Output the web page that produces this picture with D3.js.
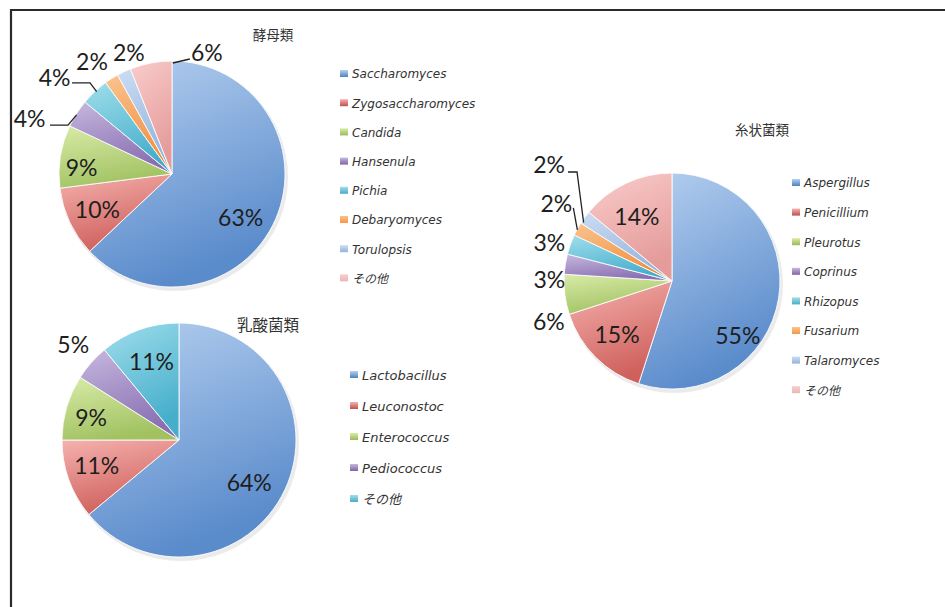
<!DOCTYPE html>
<html>
<head>
<meta charset="utf-8">
<script src="https://cdn.jsdelivr.net/npm/d3@7"></script>
<style>
  body { margin: 0; background: #fff; }
  svg { display: block; }
</style>
</head>
<body>
<div id="chart"></div>
<script>
//************* data ***************/
var yeastTitle = "酵母類";
var yeastNames = ["Saccharomyces", "Zygosaccharomyces", "Candida", "Hansenula", "Pichia", "Debaryomyces", "Torulopsis", "その他"];
var yeastValues = [63, 10, 9, 4, 4, 2, 2, 6];

var moldTitle = "糸状菌類";
var moldNames = ["Aspergillus", "Penicillium", "Pleurotus", "Coprinus", "Rhizopus", "Fusarium", "Talaromyces", "その他"];
var moldValues = [55, 15, 6, 3, 3, 2, 2, 14];

var lacticTitle = "乳酸菌類";
var lacticNames = ["Lactobacillus", "Leuconostoc", "Enterococcus", "Pediococcus", "その他"];
var lacticValues = [64, 11, 9, 5, 11];

//************* colours ***************/
var markColor = ["#4F81BD", "#C0504D", "#9BBB59", "#8064A2", "#4BACC6", "#F79646", "#95B3D7", "#E6B9B8"];
var lightColor = ["#B6D0F0", "#F5B2AF", "#D8EBA8", "#C6B8DE", "#A0DEEC", "#FBC38E", "#CCDDF3", "#F9CDCC"];
var darkColor  = ["#5A8BCB", "#CF605C", "#A2C262", "#8A70B3", "#45AECB", "#F08F40", "#92B4DE", "#E49B99"];

//************* layout ***************/
// label: in = centroid nudge, out = offset from the arc edge point, with optional leader
var yeastLayout = {
  cx: 172, cy: 174, r: 113,
  title: [273, 35], titleSize: 13.5,
  legend: {x: 340, y: 74, step: 29.2, size: 12},
  labels: [
    {dx: -6, dy: 11}, {dx: -1, dy: 1}, {dx: -10, dy: 6},
    {out: true, dx: -47, dy: 5, leader: [[0, 1.5], [-8.6, 11.6], [-26.6, 11.6]]},
    {out: true, dx: -40, dy: -14, leader: [[2, 0], [-4.6, -8.7], [-22.6, -8.7]]},
    {out: true, dx: -19.5, dy: -16.6},
    {out: true, dx: 5, dy: -19},
    {out: true, dx: 56, dy: -10, leader: [[22, 0], [39, -4]]}
  ]
};
var moldLayout = {
  cx: 672, cy: 281, r: 108,
  title: [762, 130], titleSize: 13.5,
  legend: {x: 792, y: 183, step: 29.6, size: 12},
  labels: [
    {dx: -11, dy: 43}, {dx: 0, dy: -1},
    {out: true, dx: -16, dy: 27.5},
    {out: true, dx: -16, dy: 16},
    {out: true, dx: -21, dy: -2},
    {out: true, dx: -21, dy: -25, leader: [[0, 1], [-4, -21]]},
    {out: true, dx: -35.6, dy: -52.5, leader: [[-1, 5], [-7.6, -45.5], [-16.6, -45.5]]},
    {dx: -2, dy: 6}
  ]
};
var lacticLayout = {
  cx: 179, cy: 440, r: 117,
  title: [268, 325], titleSize: 15.5,
  legend: {x: 350, y: 375, step: 31, size: 13},
  labels: [
    {dx: -6, dy: 7}, {dx: -3, dy: -3}, {dx: -7, dy: 1.5},
    {out: true, dx: -18, dy: -17.5},
    {dx: 1, dy: 1}
  ]
};

//************* setup svg ***************/
var width = 945, height = 607;
var svg = d3.select("#chart")
  .append("svg")
    .attr("width", width)
    .attr("height", height);

// gradients for the shaded slices
var defs = svg.append("defs");
markColor.forEach(function(c, i){
  var g = defs.append("linearGradient")
      .attr("id", "grad" + i)
      .attr("x1", 0).attr("y1", 0)
      .attr("x2", 0.35).attr("y2", 1);
  g.append("stop").attr("offset", "0%").attr("stop-color", lightColor[i]);
  g.append("stop").attr("offset", "100%").attr("stop-color", darkColor[i]);

  var m = defs.append("linearGradient")
      .attr("id", "mark" + i)
      .attr("x1", 0).attr("y1", 0)
      .attr("x2", 0).attr("y2", 1);
  m.append("stop").attr("offset", "0%").attr("stop-color", lightColor[i]);
  m.append("stop").attr("offset", "100%").attr("stop-color", markColor[i]);
});

// frame
svg.append("path")
  .attr("d", "M11," + height + "V10H" + width)
  .attr("fill", "none")
  .attr("stroke", "#2b2b2b")
  .attr("stroke-width", 2.2);

//************* pie drawing ***************/
var pie = d3.pie().sort(null).value(function(d){ return d.value; });

function drawPie(layout, title, names, values){
  var data = names.map(function(n, i){ return {name: n, value: values[i], i: i}; });
  var arcs = pie(data);
  var arc = d3.arc().innerRadius(0).outerRadius(layout.r);
  var labelArc = d3.arc().innerRadius(layout.r * 0.72).outerRadius(layout.r * 0.72);

  var g = svg.append("g")
      .attr("transform", "translate(" + layout.cx + "," + layout.cy + ")");

  // soft shadow
  g.append("circle")
      .attr("cx", 2).attr("cy", 3)
      .attr("r", layout.r + 1)
      .attr("fill", "#000")
      .attr("opacity", 0.08);

  g.selectAll("path.slice")
    .data(arcs)
    .enter()
    .append("path")
      .attr("class", "slice")
      .attr("d", arc)
      .attr("fill", function(d){ return "url(#grad" + d.data.i + ")"; })
      .attr("stroke", "#ffffff")
      .attr("stroke-opacity", 0.85)
      .attr("stroke-width", 1);

  // labels
  arcs.forEach(function(d, i){
    var spec = layout.labels[i];
    var pos;
    if (spec.out) {
      var a = (d.startAngle + d.endAngle) / 2;
      var ax = layout.r * Math.sin(a), ay = -layout.r * Math.cos(a);
      if (spec.leader) {
        g.append("polyline")
          .attr("points", spec.leader.map(function(p){ return (ax + p[0]) + "," + (ay + p[1]); }).join(" "))
          .attr("fill", "none")
          .attr("stroke", "#222")
          .attr("stroke-width", 1.3);
      }
      pos = [ax + spec.dx, ay + spec.dy];
    } else {
      var c = labelArc.centroid(d);
      pos = [c[0] + spec.dx, c[1] + spec.dy];
    }
    g.append("text")
      .attr("x", pos[0])
      .attr("y", pos[1])
      .attr("dy", "0.36em")
      .attr("text-anchor", "middle")
      .attr("font-family", "Lato, 'Open Sans', sans-serif")
      .attr("font-size", "23px")
      .attr("fill", "#1e1e1e")
      .text(d.data.value + "%");
  });

  // title
  svg.append("text")
    .attr("x", layout.title[0])
    .attr("y", layout.title[1])
    .attr("dy", "0.36em")
    .attr("text-anchor", "middle")
    .attr("font-family", "'Noto Sans CJK JP', sans-serif")
    .attr("font-size", layout.titleSize + "px")
    .attr("fill", "#333")
    .text(title);

  // legend
  var legend = svg.append("g")
      .attr("transform", "translate(" + layout.legend.x + "," + layout.legend.y + ")");
  data.forEach(function(d, i){
    var row = legend.append("g")
        .attr("transform", "translate(0," + (i * layout.legend.step) + ")");
    row.append("rect")
      .attr("x", 0).attr("y", -4)
      .attr("width", 8).attr("height", 7)
      .attr("fill", "url(#mark" + i + ")");
    row.append("text")
      .attr("x", 12)
      .attr("y", 0)
      .attr("dy", "0.36em")
      .attr("font-family", /[^\x00-\x7f]/.test(d.name) ? "'Noto Sans CJK JP', sans-serif" : "'DejaVu Sans', sans-serif")
      .attr("font-style", "italic")
      .attr("font-size", layout.legend.size + "px")
      .attr("fill", "#333")
      .text(d.name);
  });
}

drawPie(yeastLayout, yeastTitle, yeastNames, yeastValues);
drawPie(moldLayout, moldTitle, moldNames, moldValues);
drawPie(lacticLayout, lacticTitle, lacticNames, lacticValues);
</script>
</body>
</html>
